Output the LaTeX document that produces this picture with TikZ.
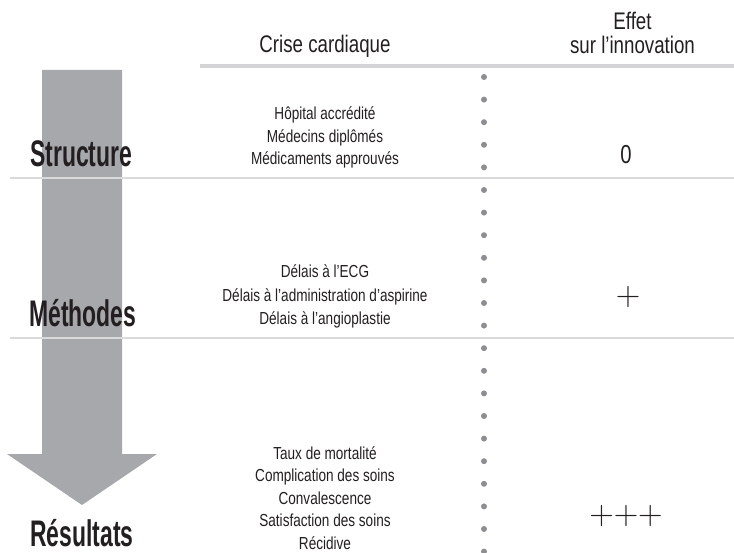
\documentclass[tikz,border=0pt]{standalone}
\usepackage{fontspec}
\newfontfamily\cond{Liberation Sans}[FakeStretch=0.78]
\newfontfamily\condb{Liberation Sans Bold}[FakeStretch=0.62]
\definecolor{arrowgray}{HTML}{A7A8AB}
\definecolor{rulegray}{HTML}{D4D4D6}
\definecolor{thingray}{HTML}{DADADC}
\definecolor{dotgray}{HTML}{8D8D92}
\definecolor{ink}{HTML}{231F20}
\tikzset{
  head/.style={font=\cond\fontsize{24}{27}\selectfont, text=ink, inner sep=0pt, anchor=base},
  itemline/.style={font=\cond\fontsize{17.4}{20}\selectfont, text=ink, inner sep=0pt, anchor=base},
  biglabel/.style={font=\condb\fontsize{37}{40}\selectfont, text=ink, inner sep=0pt, anchor=base west},
  effect/.style={font=\fontsize{34}{36}\selectfont, text=ink, inner sep=0pt, anchor=base},
  zero/.style={font=\cond\fontsize{26}{28}\selectfont, text=ink, inner sep=0pt, anchor=base},
  dotmark/.style={fill=dotgray, draw=none},
}
\begin{document}
\begin{tikzpicture}[x=1pt,y=-1pt]
\useasboundingbox (0,0) rectangle (734,553);
% arrow
\fill[arrowgray] (42,70) -- (122,70) -- (122,454) -- (157,454) -- (82,505) -- (7,454) -- (42,454) -- cycle;
% rules
\fill[rulegray] (200,64) rectangle (734,68.5);
\fill[thingray] (10,177.4) rectangle (734,178.8);
\fill[thingray] (10,337.4) rectangle (734,338.8);
% dots
\foreach \k in {0,...,21} {
  \fill[dotmark] (484,{77+22.6*\k}) circle (3);
}
% headers
\node[head] (crise) at (325,52.3) {Crise cardiaque};
\node[head] (effet1) at (632.5,30) {Effet};
\node[head] (effet2) at (632.5,53.3) {sur l’innovation};
% row 1
\node[itemline] (a1) at (325,120) {Hôpital accrédité};
\node[itemline] (a2) at (325,142.5) {Médecins diplômés};
\node[itemline] (a3) at (325,165) {Médicaments approuvés};
% row 2
\node[itemline] (b1) at (325,278) {Délais à l’ECG};
\node[itemline] (b2) at (325,301.5) {Délais à l’administration d’aspirine};
\node[itemline] (b3) at (325,325) {Délais à l’angioplastie};
% row 3
\node[itemline] (c1) at (325,459) {Taux de mortalité};
\node[itemline] (c2) at (325,481.5) {Complication des soins};
\node[itemline] (c3) at (325,504) {Convalescence};
\node[itemline] (c4) at (325,526.5) {Satisfaction des soins};
\node[itemline] (c5) at (325,549) {Récidive};
% stage labels
\node[biglabel] (structure) at (30,167) {Structure};
\node[biglabel] (methodes) at (29,327) {Méthodes};
\node[biglabel] (resultats) at (30,546) {Résultats};
% effects
\node[zero] (effA) at (626,164) {0};
\node[effect] (effB) at (628,305.5) {+};
\node[effect] (effC) at (626,524) {+++};
\end{tikzpicture}
\end{document}
